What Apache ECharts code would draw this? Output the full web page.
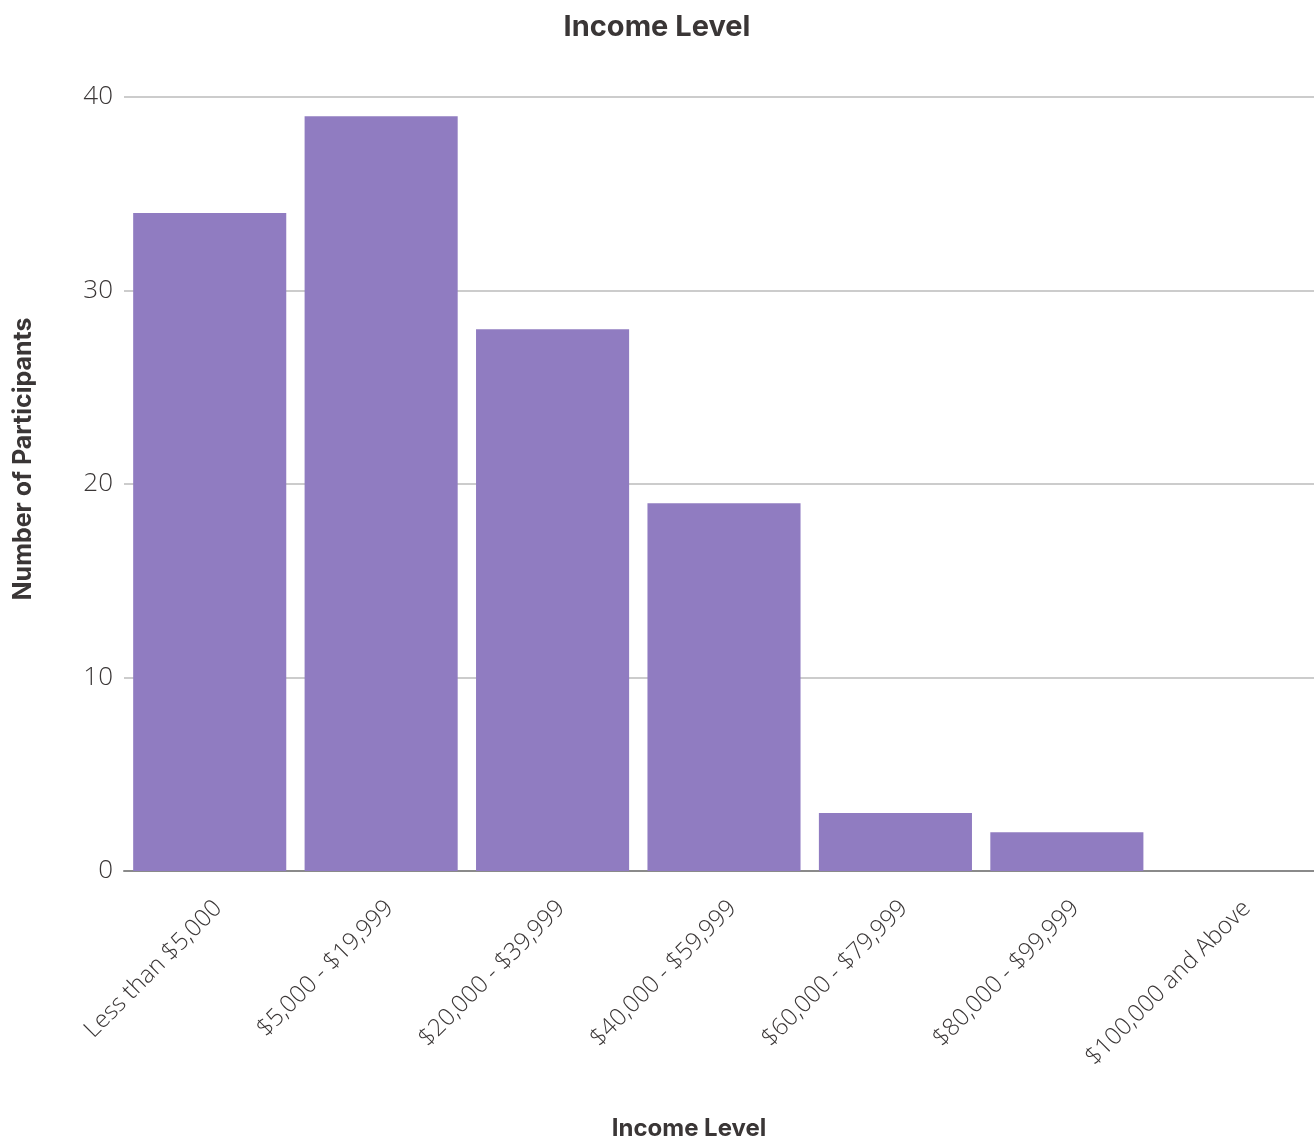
<!DOCTYPE html>
<html>
<head>
<meta charset="utf-8">
<title>Income Level</title>
<script src="https://cdn.jsdelivr.net/npm/echarts@6/dist/echarts.min.js"></script>
<style>
  html, body { margin: 0; padding: 0; background: #ffffff; overflow: hidden; }
  #chart { width: 100vw; height: 100vh; }
</style>
</head>
<body>
<div id="chart"></div>
<script>
// Income brackets and number of survey participants in each
const incomeCategories = [
  'Less than $5,000',
  '$5,000 - $19,999',
  '$20,000 - $39,999',
  '$40,000 - $59,999',
  '$60,000 - $79,999',
  '$80,000 - $99,999',
  '$100,000 and Above'
];
const participantCounts = [34, 39, 28, 19, 3, 2, 0];
const yTicks = [0, 10, 20, 30, 40];

const textColor = '#3a3636';
const labelFont = '"Open Sans", "Noto Sans", sans-serif';
const headFont = 'Inter, "Noto Sans", sans-serif';

const chart = echarts.init(document.getElementById('chart'), null, { renderer: 'canvas' });

chart.setOption({
  backgroundColor: '#ffffff',
  animation: false,
  title: {
    text: 'Income Level',
    left: 'center',
    top: 8,
    textStyle: { fontFamily: headFont, fontWeight: 'bold', fontSize: 29, color: textColor }
  },
  // fixed plot box; the axis names sit outside it on purpose
  grid: {
    left: 124, top: 97, width: 1200, height: 774,
    containLabel: false,
    outerBoundsMode: 'none'
  },
  xAxis: {
    type: 'category',
    data: incomeCategories,
    name: 'Income Level',
    nameLocation: 'middle',
    nameGap: 246,
    nameTextStyle: {
      fontFamily: headFont, fontWeight: 'bold', fontSize: 24, color: textColor,
      padding: [0, 70, 0, 0]
    },
    axisLine: { show: true, lineStyle: { color: '#8a8a8a', width: 2 } },
    axisTick: { show: false },
    axisLabel: {
      rotate: 45,
      margin: 25,
      verticalAlign: 'top',
      interval: 0,
      fontFamily: labelFont,
      fontWeight: 300,
      fontSize: 24,
      color: textColor
    },
    splitLine: { show: false }
  },
  yAxis: {
    type: 'value',
    min: yTicks[0],
    max: yTicks[yTicks.length - 1],
    interval: 10,
    name: 'Number of Participants',
    nameLocation: 'middle',
    nameGap: 88,
    nameRotate: 90,
    nameTextStyle: {
      fontFamily: headFont, fontWeight: 'bold', fontSize: 25, color: textColor,
      padding: [0, 0, 0, 50]
    },
    axisLine: { show: false },
    axisTick: { show: false },
    axisLabel: {
      margin: 11,
      fontFamily: labelFont,
      fontWeight: 300,
      fontSize: 26,
      color: textColor
    },
    splitLine: { show: true, lineStyle: { color: '#cccccc', width: 2 } }
  },
  series: [{
    type: 'bar',
    data: participantCounts,
    barCategoryGap: '10.7%',
    itemStyle: { color: '#907cc1' }
  }]
});
</script>
</body>
</html>
